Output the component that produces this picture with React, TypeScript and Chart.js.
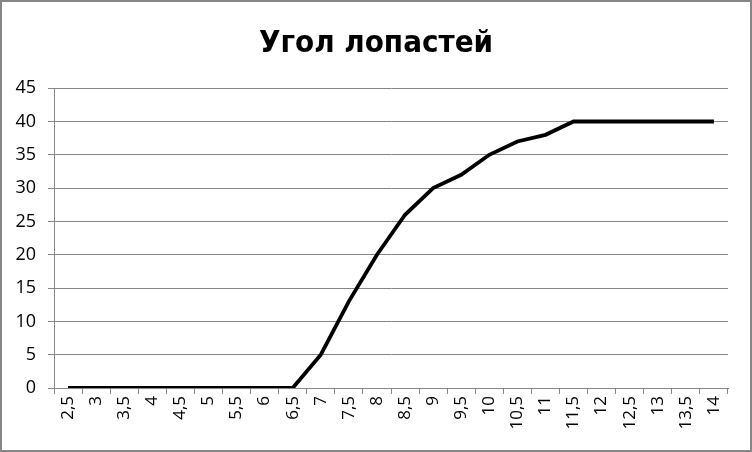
import React, { useEffect, useRef } from "react";
import { Chart, registerables } from "chart.js";

Chart.register(...registerables);

const categories = ["2,5","3","3,5","4","4,5","5","5,5","6","6,5","7","7,5","8","8,5","9","9,5","10","10,5","11","11,5","12","12,5","13","13,5","14"];
const angleValues = [0,0,0,0,0,0,0,0,0,5,13,20,26,30,32,35,37,38,40,40,40,40,40,40];
const yTicks = [0,5,10,15,20,25,30,35,40,45];
const chartTitle = "Угол лопастей";

const borderPlugin = {
  id: "outerBorder",
  afterDraw(chart: any) {
    const ctx = chart.ctx;
    ctx.save();
    ctx.strokeStyle = "#868686";
    ctx.lineWidth = 2;
    ctx.strokeRect(1, 1, chart.width - 2, chart.height - 2);
    ctx.restore();
  },
};

export default function App() {
  const ref = useRef<HTMLCanvasElement | null>(null);
  useEffect(() => {
    if (!ref.current) return;
    const chart = new Chart(ref.current, {
      type: "line",
      data: {
        labels: categories,
        datasets: [
          {
            label: chartTitle,
            data: angleValues,
            borderColor: "#000000",
            borderWidth: 3.8,
            pointRadius: 0,
            tension: 0,
            fill: false,
          },
        ],
      },
      options: {
        animation: false,
        responsive: false,
        layout: { padding: { left: 0, right: 0, top: 0, bottom: 0 } },
        plugins: {
          legend: { display: false },
          tooltip: { enabled: false },
          title: {
            display: true,
            text: chartTitle,
            color: "#000000",
            font: { family: "'DejaVu Sans Condensed', sans-serif", size: 31, weight: "bold", lineHeight: 1.2 },
            padding: { top: 25, bottom: 26 },
          },
        },
        scales: {
          x: {
            offset: true,
            grid: {
              display: true,
              drawOnChartArea: false,
              drawTicks: true,
              tickLength: 6,
              color: "#868686",
              offset: true,
            },
            border: { display: true, color: "#868686" },
            ticks: {
              color: "#000000",
              font: { family: "'Open Sans', sans-serif", size: 17 },
              maxRotation: 90,
              minRotation: 90,
              autoSkip: false,
              padding: 2,
            },
            afterFit(scale: any) {
              scale.height = 64;
            },
          },
          y: {
            min: 0,
            max: 45,
            afterBuildTicks(scale: any) {
              scale.ticks = yTicks.map((v) => ({ value: v }));
            },
            grid: {
              color: "#868686",
              tickLength: 6,
            },
            border: { display: true, color: "#868686" },
            ticks: {
              color: "#000000",
              font: { family: "'Open Sans', sans-serif", size: 18 },
              padding: 12,
            },
            afterFit(scale: any) {
              scale.width = 54;
            },
          },
          spacer: {
            position: "right",
            display: true,
            min: 0,
            max: 45,
            grid: { display: false, drawTicks: false },
            border: { display: false },
            ticks: { display: false },
            afterFit(scale: any) {
              scale.width = 24;
            },
          },
        },
      },
      plugins: [borderPlugin],
    });
    return () => chart.destroy();
  }, []);
  return (
    <div style={{ position: "fixed", left: 0, top: 0, width: 752, height: 452, background: "#fff" }}>
      <canvas ref={ref} width={752} height={452} style={{ width: 752, height: 452 }} />
    </div>
  );
}
